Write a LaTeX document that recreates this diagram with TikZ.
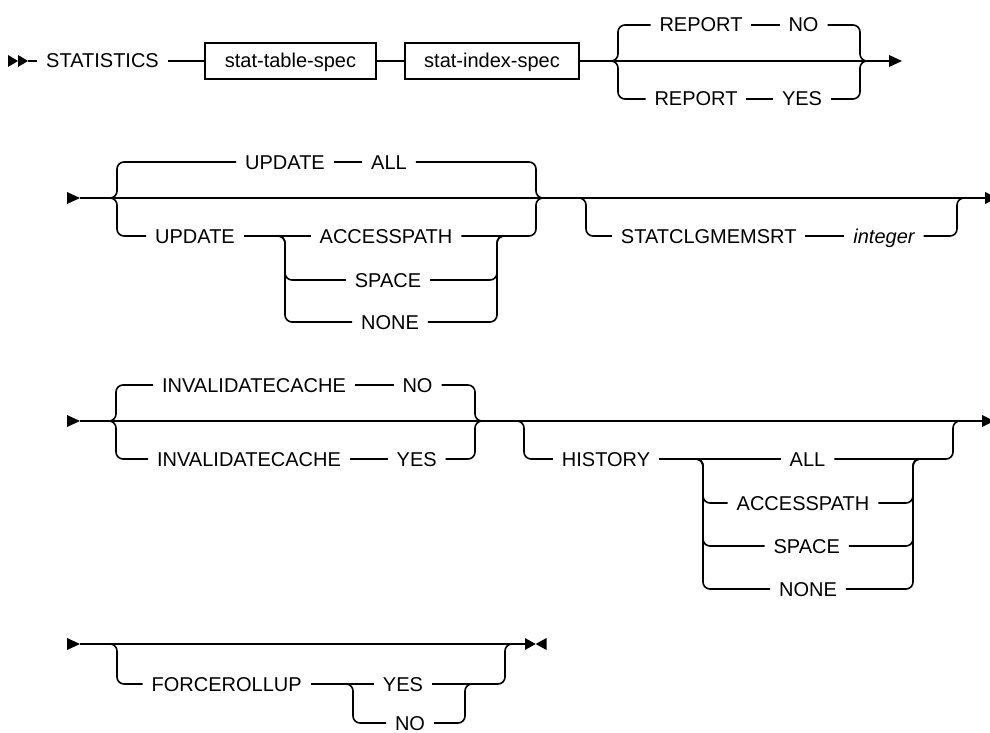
\documentclass[tikz,border=0pt]{standalone}
\usepackage{fontspec}
\setmainfont{Liberation Sans}
\begin{document}
\begin{tikzpicture}[x=1pt,y=-1pt,
  rail/.style={line width=1.6pt},
  brace/.style={line width=1.6pt, rounded corners=7pt},
  kw/.style={inner sep=0pt, outer xsep=9pt, outer ysep=0pt, text height=14pt, text depth=0pt, font=\fontsize{20}{22}\selectfont},
  var/.style={kw, font=\fontsize{20}{22}\selectfont\itshape},
  boxnode/.style={draw, line width=1.6pt, inner sep=0pt, outer sep=0pt, minimum height=36pt, text height=14pt, text depth=0pt, font=\fontsize{20}{22}\selectfont},
  tipfill/.style={fill=black}
]
\useasboundingbox (0,0) rectangle (990,733);

% ---------------- Row 1 ----------------
\fill[tipfill] (8,55) -- (18,61) -- (8,67) -- cycle;
\fill[tipfill] (18,55) -- (28,61) -- (18,67) -- cycle;
\coordinate (s1) at (28,61);
\coordinate (e1) at (889,61);
\node[kw] (stat) at (102.5,61) {STATISTICS};
\node[boxnode, minimum width=171pt] (tspec) at (290.5,61) {stat-table-spec};
\node[boxnode, minimum width=174pt] (ispec) at (492,61) {stat-index-spec};
\draw[rail] (s1) -- (stat.west);
\draw[rail] (stat.east) -- (tspec.west);
\draw[rail] (tspec.east) -- (ispec.west);
\draw[rail] (ispec.east) -- (e1);
\fill[tipfill] (889,55) -- (902,61) -- (889,67) -- cycle;
\node[kw] (rep1) at (701,25) {REPORT};
\node[kw] (no1) at (803.5,25) {NO};
\node[kw] (rep2) at (696,99) {REPORT};
\node[kw] (yes1) at (802,99) {YES};
\draw[brace] (604,61) -- (618,61) -- (618,25) -- (rep1.west);
\draw[rail] (rep1.east) -- (no1.west);
\draw[brace] (no1.east) -- (860,25) -- (860,61) -- (875,61);
\draw[brace] (604,61) -- (618,61) -- (618,99) -- (rep2.west);
\draw[rail] (rep2.east) -- (yes1.west);
\draw[brace] (yes1.east) -- (860,99) -- (860,61) -- (875,61);

% ---------------- Row 2 ----------------
\fill[tipfill] (67,192) -- (80,198) -- (67,204) -- cycle;
\coordinate (s2) at (80,198);
\coordinate (e2) at (985,198);
\draw[rail] (s2) -- (e2);
\fill[tipfill] (985,192) -- (997,198) -- (985,204) -- cycle;
\node[kw] (upd1) at (285,162) {UPDATE};
\node[kw] (all1) at (389,162) {ALL};
\node[kw] (upd2) at (195,236) {UPDATE};
\node[kw] (acc2) at (386,236) {ACCESSPATH};
\node[kw] (spc2) at (388,280) {SPACE};
\node[kw] (non2) at (390,322) {NONE};
\draw[brace] (105,198) -- (117,198) -- (117,162) -- (upd1.west);
\draw[rail] (upd1.east) -- (all1.west);
\draw[brace] (all1.east) -- (536,162) -- (536,198) -- (550,198);
\draw[brace] (105,198) -- (117,198) -- (117,236) -- (upd2.west);
\draw[rail] (upd2.east) -- (acc2.west);
\draw[brace] (270,236) -- (285,236) -- (285,280) -- (spc2.west);
\draw[brace] (270,236) -- (285,236) -- (285,322) -- (non2.west);
\draw[brace] (acc2.east) -- (536,236) -- (536,198) -- (550,198);
\draw[brace] (spc2.east) -- (497,280) -- (497,236) -- (511,236);
\draw[brace] (non2.east) -- (497,322) -- (497,236) -- (511,236);
\node[kw] (scm) at (708.7,236) {STATCLGMEMSRT};
\node[var] (int) at (884,236) {integer};
\draw[brace] (570,198) -- (586,198) -- (586,236) -- (scm.west);
\draw[rail] (scm.east) -- (int.west);
\draw[brace] (int.east) -- (957,236) -- (957,198) -- (972,198);

% ---------------- Row 3 ----------------
\fill[tipfill] (67,415) -- (80,421) -- (67,427) -- cycle;
\coordinate (s3) at (80,421);
\coordinate (e3) at (982,421);
\draw[rail] (s3) -- (e3);
\fill[tipfill] (982,415) -- (994,421) -- (982,427) -- cycle;
\node[kw] (inv1) at (254,385) {INVALIDATECACHE};
\node[kw] (no3) at (417.5,385) {NO};
\node[kw] (inv2) at (249,459) {INVALIDATECACHE};
\node[kw] (yes3) at (416.7,459) {YES};
\draw[brace] (104,421) -- (116,421) -- (116,385) -- (inv1.west);
\draw[rail] (inv1.east) -- (no3.west);
\draw[brace] (no3.east) -- (475,385) -- (475,421) -- (489,421);
\draw[brace] (104,421) -- (116,421) -- (116,459) -- (inv2.west);
\draw[rail] (inv2.east) -- (yes3.west);
\draw[brace] (yes3.east) -- (475,459) -- (475,421) -- (489,421);
\node[kw] (hist) at (606,459) {HISTORY};
\node[kw] (all3) at (807.5,459) {ALL};
\node[kw] (acc3) at (803,503) {ACCESSPATH};
\node[kw] (spc3) at (806.7,546) {SPACE};
\node[kw] (non3) at (808,589) {NONE};
\draw[brace] (508,421) -- (524,421) -- (524,459) -- (hist.west);
\draw[rail] (hist.east) -- (all3.west);
\draw[brace] (688,459) -- (703,459) -- (703,503) -- (acc3.west);
\draw[brace] (688,459) -- (703,459) -- (703,546) -- (spc3.west);
\draw[brace] (688,459) -- (703,459) -- (703,589) -- (non3.west);
\draw[brace] (all3.east) -- (953,459) -- (953,421) -- (967,421);
\draw[brace] (acc3.east) -- (913,503) -- (913,459) -- (927,459);
\draw[brace] (spc3.east) -- (913,546) -- (913,459) -- (927,459);
\draw[brace] (non3.east) -- (913,589) -- (913,459) -- (927,459);

% ---------------- Row 4 ----------------
\fill[tipfill] (67,638) -- (80,644) -- (67,650) -- cycle;
\coordinate (s5) at (80,644);
\coordinate (e5) at (525,644);
\draw[rail] (s5) -- (e5);
\fill[tipfill] (525,638) -- (535.7,644) -- (525,650) -- cycle;
\fill[tipfill] (546.5,638) -- (535.7,644) -- (546.5,650) -- cycle;
\node[kw] (forc) at (226.7,684) {FORCEROLLUP};
\node[kw] (yes5) at (403,684) {YES};
\node[kw] (no5) at (410,723) {NO};
\draw[brace] (100,644) -- (117,644) -- (117,684) -- (forc.west);
\draw[rail] (forc.east) -- (yes5.west);
\draw[brace] (338,684) -- (353,684) -- (353,723) -- (no5.west);
\draw[brace] (yes5.east) -- (505,684) -- (505,644) -- (520,644);
\draw[brace] (no5.east) -- (465,723) -- (465,684) -- (479,684);
\end{tikzpicture}
\end{document}
